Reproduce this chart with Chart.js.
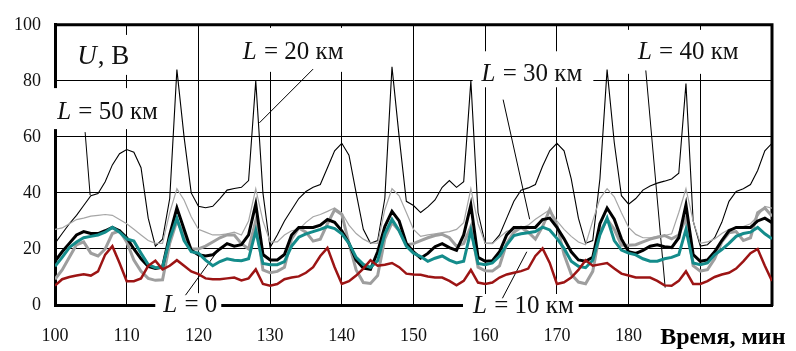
<!DOCTYPE html>
<html>
<head>
<meta charset="utf-8">
<script src="https://cdn.jsdelivr.net/npm/chart.js@4.4.1/dist/chart.umd.min.js"></script>
<style>
  html, body { margin: 0; padding: 0; background: #fff; }
  #wrap { width: 796px; height: 351px; }
</style>
</head>
<body>
<div id="wrap"><canvas id="chart" width="796" height="351"></canvas></div>
<script>
// time, min
const minutes = [
  100, 101, 102, 103, 104, 105, 106, 107, 108, 109,
  110, 111, 112, 113, 114, 115, 116, 117, 118, 119,
  120, 121, 122, 123, 124, 125, 126, 127, 128, 129,
  130, 131, 132, 133, 134, 135, 136, 137, 138, 139,
  140, 141, 142, 143, 144, 145, 146, 147, 148, 149,
  150, 151, 152, 153, 154, 155, 156, 157, 158, 159,
  160, 161, 162, 163, 164, 165, 166, 167, 168, 169,
  170, 171, 172, 173, 174, 175, 176, 177, 178, 179,
  180, 181, 182, 183, 184, 185, 186, 187, 188, 189,
  190, 191, 192, 193, 194, 195, 196, 197, 198, 199,
  200
]

// U, V for each line
const thinBlack = [
  22, 25.5, 29, 32, 35.5, 39, 39.8, 44, 50, 54,
  55.5, 54.5, 49, 31, 21, 23.5, 38, 84, 60, 40,
  35.2, 34.7, 35.2, 38, 41, 41.6, 42, 44.4, 80, 40,
  20.5, 25, 30, 34, 38, 40.5, 42, 43, 49, 55,
  57.7, 53.5, 40, 27, 22, 23, 38, 85, 60, 37,
  35.5, 33, 35, 37.5, 42, 44.4, 42, 44, 80, 33,
  22, 22, 25, 31, 37, 41, 41.8, 43, 49.5, 55,
  57.7, 55, 45, 31, 22, 23, 45, 84, 58, 39,
  36, 38, 41, 42.5, 43.5, 44.2, 45, 47, 79, 30,
  21, 21.5, 24, 29.5, 37, 40.5, 41.5, 43, 48, 55,
  57.7
]
const thinGray = [
  27, 27.5, 29, 30.5, 31, 31.7, 32, 32.3, 32, 30.5,
  29, 27, 25, 23, 22, 22, 33, 41.5, 37.5, 31.5,
  27, 26, 25, 25, 25.4, 26, 25, 30, 41.5, 30,
  22.5, 22.5, 25, 26.5, 27, 29.5, 31.5, 32.3, 33.4, 34.6,
  32.9, 28.5, 25.5, 23.5, 22.2, 22, 34, 41.5, 39, 33,
  27, 24.5, 25, 25.4, 25.8, 26.2, 27, 29.4, 41.5, 29,
  22, 21.9, 24.2, 26.3, 27, 27.5, 28.5, 30.6, 32.3, 34,
  30, 27, 24.5, 22.5, 21.5, 30, 38, 41.5, 38.6, 32.9,
  27.7, 25.2, 24, 24, 24.5, 24.8, 25.4, 33, 41.5, 30,
  22, 22.5, 23.6, 25.5, 27, 27.5, 28, 29, 31.7, 35.2,
  34.6
]
const thickBlack = [
  15.6, 19, 22, 25, 26.2, 25.5, 25.5, 26.5, 27.7, 26.5,
  24, 20, 16.5, 13.8, 13, 13.5, 25, 34.6, 27, 19.5,
  17.9, 17.5, 17.9, 20, 21.9, 21, 21.5, 25, 36, 18,
  16.1, 16.1, 18, 25, 27.7, 27.7, 27.7, 28.5, 30.5, 29.5,
  26.5, 22, 16, 13.2, 12.7, 19, 28, 33.4, 30, 22,
  19, 16.7, 18.4, 20.8, 21.9, 20.5, 19.5, 25, 35.7, 17,
  15.6, 15.8, 19, 25, 27.7, 27.7, 27.7, 27.7, 30.5, 31,
  27.7, 23.6, 19, 16.1, 15.6, 17, 29, 34.6, 30.6, 23.6,
  19, 18.4, 19.5, 21, 21.5, 20.8, 20.5, 24, 35.7, 18,
  15.6, 16.1, 19, 23, 26.5, 27.7, 27.7, 27.7, 30, 31,
  29.4
]
const thickGray = [
  9.2, 12.5, 17, 21.5, 22.5, 18.5, 17.5, 20, 25.5, 26.5,
  22.5, 16, 12, 9.5, 8.8, 9, 22, 30, 25, 20,
  20, 21, 22.5, 24, 25, 25, 21.9, 20, 30, 12.5,
  11.5, 12, 13.5, 23.6, 27.5, 26, 22.8, 23.5, 29, 34,
  32.3, 22, 12.5, 8, 7.7, 10.5, 23.6, 29.4, 26.5, 21.5,
  21.9, 23, 24, 24.8, 25.2, 24, 21, 21.9, 28, 13.5,
  12.2, 12.1, 14, 22, 26, 27.7, 26, 23.5, 28, 34,
  28.5, 18, 11, 8.2, 7.6, 12, 26, 30.6, 27, 21.3,
  21.3, 21.5, 22.5, 23.5, 24.2, 24.8, 23.6, 25, 31, 14,
  12.1, 12.6, 16.5, 22.5, 25.8, 26.2, 23, 24, 32.9, 34.6,
  31.7
]
const teal = [
  13.8, 17, 20.5, 22.5, 24, 24.5, 25, 26, 27.7, 26,
  23.6, 22.8, 18.5, 14.4, 13.3, 13.5, 23.6, 31, 23, 19,
  18.5, 16, 14, 15.5, 16.5, 16, 15.8, 16.5, 26.5, 14.8,
  14.4, 14.4, 15.5, 21, 24.2, 25.4, 26.2, 27, 28, 27.3,
  25.4, 22, 17, 14.5, 13.4, 15.8, 25.4, 30.6, 26.5, 21,
  18.5, 17.3, 15.6, 16.7, 17.5, 16, 15, 15.6, 26.5, 14.8,
  14.4, 15, 17.5, 21.5, 24.8, 25.4, 25.8, 26.2, 27.8, 26.8,
  23.8, 20.2, 15.6, 13.8, 13.3, 16, 25, 31, 23, 19.6,
  18.5, 17.9, 16.5, 15.6, 15.6, 16.5, 17, 18, 27, 15,
  14.4, 15, 17.9, 19.8, 22, 24.5, 25.5, 26, 27.7, 25.4,
  23.6
]
const darkRed = [
  6.9, 9.2, 10, 10.5, 11, 10.5, 12, 18, 21, 15,
  8.5, 8.5, 9.5, 14, 15.8, 12.7, 14, 16, 14, 12,
  11, 9.5, 9.2, 9.2, 9.5, 9.8, 8.8, 9.5, 12.7, 7.5,
  6.9, 7.5, 9.2, 9.8, 10.2, 11.5, 13.5, 17.5, 20.4, 13.5,
  7.5, 8.5, 10.5, 13, 16, 14, 14.4, 15, 13.5, 11.2,
  10.9, 10.8, 10.2, 9.8, 9.8, 8.6, 7, 8.6, 12.5, 8,
  7.5, 8, 9.8, 10.9, 11.5, 12.1, 13, 17.5, 20.2, 15,
  7.5, 8.1, 9.8, 12.5, 16, 14, 14.5, 15, 13, 11.2,
  10.5, 9.8, 9.8, 9.8, 8.6, 7, 6.9, 8.6, 12, 7.5,
  7.5, 8.5, 10, 10.9, 11.5, 13, 15.6, 18.5, 20, 14,
  8.6
]

const xTicks = [100, 110, 120, 130, 140, 150, 160, 170, 180]

// text notes: left edge / vertical centre in chart units, white box padding in px
const notes = [
  { name: 'L', rest: ' = 50 км', t: 100.3, v: 69.2, size: 25, box: [6, 2, 23, 18] },
  { name: 'L', rest: ' = 20 км', t: 126.2, v: 90.7, size: 25, box: [5, 4, 23, 21] },
  { name: 'L', rest: ' = 30 км', t: 159.5, v: 82.7, size: 25, box: [9, 12, 22, 14] },
  { name: 'L', rest: ' = 40 км', t: 181.3, v: 90.7, size: 25, box: [14, 4, 21, 23] },
  { name: 'L', rest: ' = 0', t: 115.1, v: 0.3, size: 25, box: [8, 5, 11, 12] },
  { name: 'L', rest: ' = 10 км', t: 158.3, v: 0, size: 25, box: [10, 6, 11, 12] },
  { name: 'U', rest: ', В', t: 103.1, v: 88.9, size: 27, box: [5, 5, 21, 19] }
]
const leaders = [
  [104.2, 61.7, 104.9, 39.2],
  [136.0, 84.2, 128.5, 65.0],
  [162.5, 73.3, 166.2, 30.6],
  [182.4, 83.7, 185.1, 6.2],
  [118.2, 3.5, 122.8, 19.7],
  [162.4, 2.4, 165.8, 19.0]
]

const serif = '"Liberation Serif", "Times New Roman", serif'

function toPoints(values) {
  return values.map((v, i) => ({ x: minutes[i], y: v }))
}

const notesPlugin = {
  id: 'notes',
  beforeDatasetsDraw(chart) {
    const { ctx, chartArea: a, scales: { x, y } } = chart
    ctx.save()
    // top and right frame
    ctx.strokeStyle = '#000'
    ctx.lineWidth = 3
    ctx.beginPath()
    ctx.moveTo(a.left - 1, a.top)
    ctx.lineTo(a.right, a.top)
    ctx.lineTo(a.right, a.bottom + 1)
    ctx.stroke()

    notes.forEach(n => {
      const px = x.getPixelForValue(n.t)
      const py = y.getPixelForValue(n.v)
      ctx.font = 'italic ' + n.size + 'px ' + serif
      const w1 = ctx.measureText(n.name).width
      ctx.font = n.size + 'px ' + serif
      const w2 = ctx.measureText(n.rest).width
      const [pl, pr, pt, pb] = n.box
      ctx.fillStyle = '#fff'
      ctx.fillRect(px - pl, py - pt, w1 + w2 + pl + pr, pt + pb)
      ctx.fillStyle = '#111'
      ctx.textBaseline = 'alphabetic'
      ctx.font = 'italic ' + n.size + 'px ' + serif
      ctx.fillText(n.name, px, py + 8)
      ctx.font = n.size + 'px ' + serif
      ctx.fillText(n.rest, px + w1 + 1, py + 8)
    })

    ctx.lineWidth = 1
    ctx.strokeStyle = '#000'
    leaders.forEach(([t1, v1, t2, v2]) => {
      ctx.beginPath()
      ctx.moveTo(x.getPixelForValue(t1), y.getPixelForValue(v1))
      ctx.lineTo(x.getPixelForValue(t2), y.getPixelForValue(v2))
      ctx.stroke()
    })

    // axis caption
    ctx.font = 'bold 24px ' + serif
    ctx.fillStyle = '#000'
    ctx.fillText('Время, мин', x.getPixelForValue(184.4), a.bottom + 39)
    ctx.restore()
  }
}

const lineSet = (label, values, color, width) => ({
  label,
  data: toPoints(values),
  borderColor: color,
  borderWidth: width,
  pointRadius: 0,
  tension: 0,
  fill: false
})

new Chart(document.getElementById('chart'), {
  type: 'line',
  data: {
    datasets: [
      lineSet('red', darkRed, '#9c1414', 2.5),
      lineSet('teal', teal, '#148c8b', 3),
      lineSet('thick black', thickBlack, '#000', 3),
      lineSet('thick gray', thickGray, '#9e9e9e', 3),
      lineSet('thin gray', thinGray, '#a6a6a6', 1.2),
      lineSet('thin black', thinBlack, '#000', 1.1)
    ]
  },
  options: {
    responsive: false,
    animation: false,
    devicePixelRatio: 1,
    layout: { padding: { top: 16, right: 24, left: 0, bottom: 0 } },
    plugins: { legend: { display: false }, tooltip: { enabled: false } },
    scales: {
      x: {
        type: 'linear',
        min: 100,
        max: 200,
        afterBuildTicks: s => { s.ticks = minutes.filter(m => m % 10 === 0).map(m => ({ value: m })) },
        ticks: {
          autoSkip: false,
          maxRotation: 0,
          padding: 20,
          color: '#111',
          font: { family: serif, size: 18 },
          callback: v => xTicks.includes(v) ? String(v) : ''
        },
        grid: { color: '#000', lineWidth: 1, drawTicks: false },
        border: { color: '#000', width: 3 },
        afterFit: s => { s.height = 46 }
      },
      y: {
        min: 0,
        max: 100,
        ticks: {
          stepSize: 20,
          padding: 14,
          color: '#111',
          font: { family: serif, size: 18 }
        },
        grid: { color: '#000', lineWidth: 1, drawTicks: false },
        border: { color: '#000', width: 3 },
        afterFit: s => { s.width = 55 }
      }
    }
  },
  plugins: [notesPlugin]
})
</script>
</body>
</html>
